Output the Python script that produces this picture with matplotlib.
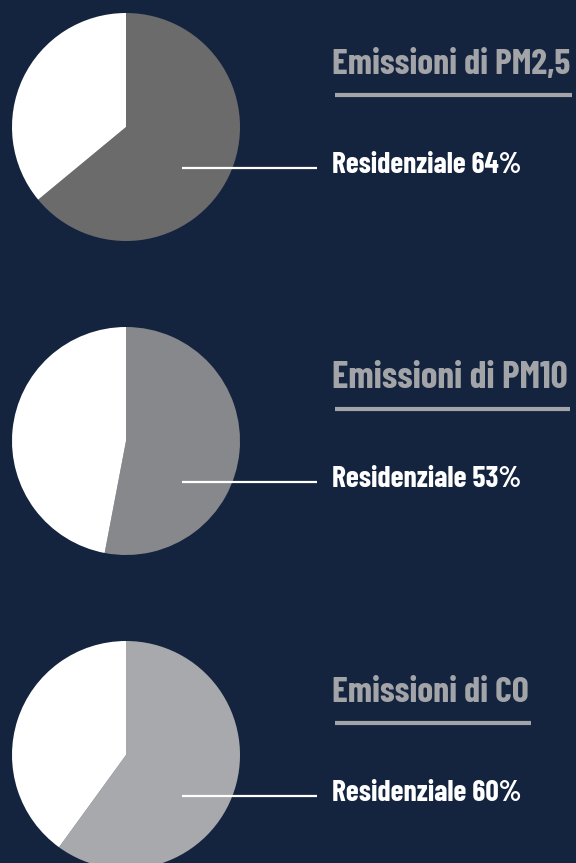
import matplotlib
matplotlib.use("Agg")
import matplotlib.pyplot as plt

# data
titles = ["Emissioni di PM2,5", "Emissioni di PM10", "Emissioni di CO"]
residenziale = [64, 53, 60]
slice_colors = ["#6b6b6b", "#87888b", "#a8a9ac"]

W, H = 576, 863
BG = "#14243f"
TITLE_GREY = "#a3a4a8"
FONT = ["Barlow Condensed", "Roboto Condensed", "DejaVu Sans"]

line_ys = [168, 482, 796]          # leader line heights (px from top)
title_widths = [238, 236, 197]     # widths of the titles in the reference (px)
label_width = 190
cx, r = 126, 114

fig = plt.figure(figsize=(W / 100, H / 100), dpi=100, facecolor=BG)

# overlay in pixel coordinates for lines and text
ov = fig.add_axes([0, 0, 1, 1])
ov.set_xlim(0, W)
ov.set_ylim(H, 0)
ov.axis("off")


def fit_text(x, y, s, width, color, fs=20):
    t = ov.text(x, y, s, color=color, fontsize=fs, fontweight="bold",
                family=FONT, fontstretch="condensed", va="baseline", ha="left")
    fig.canvas.draw()
    w = t.get_window_extent().width
    t.set_fontsize(fs * width / w)
    return t


for title, val, col, ly, tw in zip(titles, residenziale, slice_colors,
                                   line_ys, title_widths):
    cy = ly - 41
    ax = fig.add_axes([(cx - r) / W, (H - cy - r) / H, 2 * r / W, 2 * r / H])
    ax.pie([val, 100 - val], colors=[col, "white"], startangle=90,
           counterclock=False, radius=1.0,
           wedgeprops=dict(linewidth=0))
    ax.set_xlim(-1, 1)
    ax.set_ylim(-1, 1)
    ax.set_aspect("equal")
    ax.axis("off")

    # title + underline
    fit_text(332, ly - 94, title, tw, TITLE_GREY)
    ov.plot([335, 332 + tw + 2], [ly - 73, ly - 73], color=TITLE_GREY,
            lw=3, solid_capstyle="butt")

    # leader line + label
    ov.plot([182, 317], [ly, ly], color="white", lw=1.6,
            solid_capstyle="butt", zorder=5)
    fit_text(332, ly + 5, f"Residenziale {val}%", label_width, "white")

ov.set_zorder(10)
ov.patch.set_visible(False)

fig.savefig("out.png", dpi=100, facecolor=BG)
